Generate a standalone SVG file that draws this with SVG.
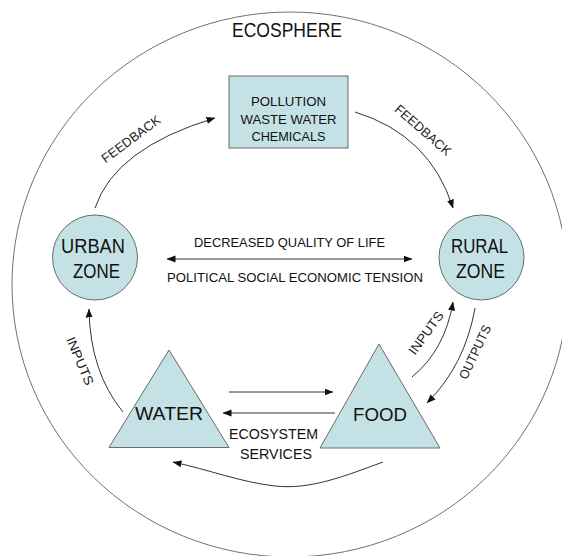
<svg xmlns="http://www.w3.org/2000/svg" width="562" height="556" viewBox="0 0 562 556">
  <style>
    .node { fill: #c4e2e6; stroke: #6a6a6a; stroke-width: 1; }
    .big { font-family: "Liberation Sans", Arial, sans-serif; fill: #111; text-anchor: middle; }
    .small { font-family: "Liberation Sans", Arial, sans-serif; fill: #222; text-anchor: middle; font-size: 13px; }
    .conn { fill: none; stroke: #333; stroke-width: 1; }
    .arrow { marker-end: url(#head); }
  </style>
  <defs>
    <marker id="head" markerUnits="userSpaceOnUse" markerWidth="9" markerHeight="8" viewBox="0 0 9 8" refX="8.5" refY="4" orient="auto-start-reverse">
      <path d="M0,0.5 L9,4 L0,7.5 z" fill="#111"/>
    </marker>
  </defs>
  <rect width="562" height="556" fill="#ffffff"/>

  <!-- outer ecosphere boundary -->
  <g id="ecosphere">
    <ellipse cx="290" cy="284.5" rx="278" ry="272.5" fill="none" stroke="#707070" stroke-width="1"/>
    <text class="big" x="287" y="37" font-size="20" textLength="110" lengthAdjust="spacingAndGlyphs">ECOSPHERE</text>
  </g>

  <g id="pollution">
    <rect class="node" x="229" y="76" width="119" height="72"/>
    <text class="big" x="288.5" y="106" font-size="13" textLength="75" lengthAdjust="spacingAndGlyphs">POLLUTION</text>
    <text class="big" x="288.5" y="123.5" font-size="13" textLength="96" lengthAdjust="spacingAndGlyphs">WASTE WATER</text>
    <text class="big" x="288.5" y="141" font-size="13" textLength="74" lengthAdjust="spacingAndGlyphs">CHEMICALS</text>
  </g>

  <g id="urban-zone">
    <circle class="node" cx="95" cy="257.5" r="42.5"/>
    <text class="big" x="93" y="253" font-size="20" textLength="64" lengthAdjust="spacingAndGlyphs">URBAN</text>
    <text class="big" x="96.5" y="278" font-size="20" textLength="47" lengthAdjust="spacingAndGlyphs">ZONE</text>
  </g>

  <g id="rural-zone">
    <circle class="node" cx="481.5" cy="257.5" r="42.5"/>
    <text class="big" x="479.5" y="253" font-size="20" textLength="57" lengthAdjust="spacingAndGlyphs">RURAL</text>
    <text class="big" x="480.5" y="277.5" font-size="20" textLength="49" lengthAdjust="spacingAndGlyphs">ZONE</text>
  </g>

  <g id="water">
    <polygon class="node" points="169,350 109,447.5 229,447.5"/>
    <text class="big" x="169" y="420" font-size="19" textLength="68" lengthAdjust="spacingAndGlyphs">WATER</text>
  </g>

  <g id="food">
    <polygon class="node" points="379,344 320,448 440,448"/>
    <text class="big" x="380" y="421" font-size="19" textLength="54" lengthAdjust="spacingAndGlyphs">FOOD</text>
  </g>

  <g id="connectors">
    <!-- feedback loops through pollution -->
    <path class="conn arrow" d="M95,208 Q115,148 215,118"/>
    <path class="conn arrow" d="M355,112 Q430,135 453,208"/>
    <!-- urban / rural tension -->
    <path class="conn" d="M167,259 L412,259" marker-start="url(#head)" marker-end="url(#head)"/>
    <!-- rural exchanges with food -->
    <path class="conn arrow" d="M412,377 Q445,350 453,302"/>
    <path class="conn arrow" d="M475,308 Q465,365 427,403"/>
    <!-- water to urban -->
    <path class="conn arrow" d="M123,412 Q90,372 89,309"/>
    <!-- ecosystem services between water and food -->
    <path class="conn arrow" d="M229,392 L333,392"/>
    <path class="conn arrow" d="M335,413 L223,413"/>
    <path class="conn arrow" d="M383,462 C345,476 310,490 275,486 C240,482 210,470 173,462"/>
  </g>

  <g id="labels">
    <text class="big" x="289.5" y="247" font-size="13" textLength="191" lengthAdjust="spacingAndGlyphs">DECREASED QUALITY OF LIFE</text>
    <text class="big" x="295" y="282" font-size="13" textLength="256" lengthAdjust="spacingAndGlyphs">POLITICAL SOCIAL ECONOMIC TENSION</text>
    <text class="big" x="273.5" y="439" font-size="15" textLength="89" lengthAdjust="spacingAndGlyphs">ECOSYSTEM</text>
    <text class="big" x="276" y="459" font-size="15" textLength="72" lengthAdjust="spacingAndGlyphs">SERVICES</text>
    <text class="small" transform="translate(131,139) rotate(-36.5)" x="0" y="4.5" textLength="70" lengthAdjust="spacingAndGlyphs">FEEDBACK</text>
    <text class="small" transform="translate(423,130) rotate(41)" x="0" y="4.5" textLength="70" lengthAdjust="spacingAndGlyphs">FEEDBACK</text>
    <text class="small" transform="translate(426,333) rotate(-54)" x="0" y="4.5" textLength="50" lengthAdjust="spacingAndGlyphs">INPUTS</text>
    <text class="small" transform="translate(475,352) rotate(-65)" x="0" y="4.5" textLength="58" lengthAdjust="spacingAndGlyphs">OUTPUTS</text>
    <text class="small" transform="translate(80,361) rotate(67)" x="0" y="4.5" textLength="51" lengthAdjust="spacingAndGlyphs">INPUTS</text>
  </g>
</svg>
